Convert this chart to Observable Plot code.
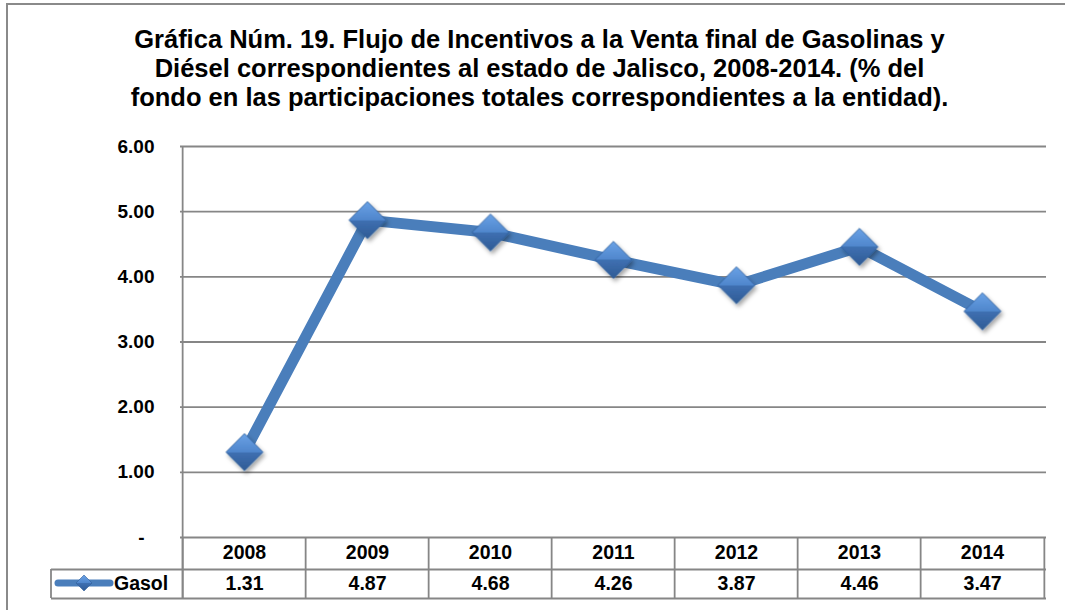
<!DOCTYPE html>
<html>
<head>
<meta charset="utf-8">
<script src="https://cdn.jsdelivr.net/npm/d3@7"></script>
<script src="https://cdn.jsdelivr.net/npm/@observablehq/plot@0.6"></script>
<style>
  html, body { margin: 0; padding: 0; background: #fff; }
  #wrap { position: relative; width: 1065px; height: 610px; overflow: hidden; font-family: "Liberation Sans", Arial, sans-serif; }
  #border { position: absolute; left: 6px; top: 3px; width: 1200px; height: 800px; border-left: 2px solid #8a8a8a; border-top: 2px solid #8a8a8a; }
  #title { position: absolute; left: 7px; top: 25px; width: 1065px; text-align: center; font-weight: bold; font-size: 25.5px; line-height: 29px; color: #000; white-space: nowrap; }
  #chart { position: absolute; left: 0; top: 0; }
</style>
</head>
<body>
<div id="wrap">
  <div id="border"></div>
  <div id="chart"></div>
  <div id="title">Gráfica Núm. 19. Flujo de Incentivos a la Venta final de Gasolinas y<br>Diésel correspondientes al estado de Jalisco, 2008-2014. (% del<br>fondo en las participaciones totales correspondientes a la entidad).</div>
</div>
<script>
const years = ["2008", "2009", "2010", "2011", "2012", "2013", "2014"];
const values = [1.31, 4.87, 4.68, 4.26, 3.87, 4.46, 3.47];
const yTicks = [1, 2, 3, 4, 5, 6];
const seriesName = "Gasol";

const data = years.map((year, i) => ({year, value: values[i]}));

const W = 1065, H = 610, mL = 180, mR = 19, mT = 146, mB = 73;
const step = (W - mL - mR) / years.length;
const frameH = H - mT - mB;
const gray = "#868686";
const lw = 1.8;
const lineColor = "#4a7ebb";
const font = "'Liberation Sans', Arial, sans-serif";

const chart = Plot.plot({
  width: W, height: H,
  marginLeft: mL, marginRight: mR, marginTop: mT, marginBottom: mB,
  x: {type: "point", domain: years, padding: 0.5},
  y: {domain: [0, 6]},
  style: {fontFamily: font, background: "transparent", color: "#000", overflow: "visible"},
  marks: [
    Plot.gridY([0, ...yTicks], {stroke: gray, strokeOpacity: 1, strokeWidth: lw}),
    // table vertical separators
    Plot.ruleX(years, {x: d => d, dx: -step / 2, insetTop: frameH, insetBottom: -61, stroke: gray, strokeWidth: lw}),
    Plot.ruleX([years[0]], {x: d => d, dx: -step / 2, insetBottom: -61, stroke: gray, strokeWidth: lw}),
    Plot.ruleX([years[years.length - 1]], {x: d => d, dx: step / 2, insetTop: frameH, insetBottom: -61, stroke: gray, strokeWidth: lw}),
    // table horizontal lines
    Plot.ruleY([0], {dy: 32, insetLeft: -129, stroke: gray, strokeWidth: lw}),
    Plot.ruleY([0], {dy: 61, insetLeft: -129, stroke: gray, strokeWidth: lw}),
    Plot.axisY(yTicks, {tickSize: 0, tickPadding: 26, tickFormat: d => d.toFixed(2), fontSize: 19, fontWeight: "bold", label: null}),
    Plot.text([0], {frameAnchor: "left", y: d => d, text: () => "-", dx: -36, textAnchor: "end", fontSize: 19, fontWeight: "bold"}),
    Plot.axisX({tickSize: 0, tickPadding: 8, fontSize: 19.5, fontWeight: "bold", label: null}),
    Plot.text(data, {x: "year", text: d => d.value.toFixed(2), frameAnchor: "bottom", lineAnchor: "middle", dy: 46, fontSize: 19.5, fontWeight: "bold"}),
    Plot.line(data, {x: "year", y: "value", stroke: lineColor, strokeWidth: 11, strokeLinejoin: "round"}),
    Plot.dot(data, {x: "year", y: "value", symbol: "diamond2", r: 16.7, fill: "url(#dg)", stroke: "#2f5e99", strokeWidth: 0.8})
  ]
});

const svg = d3.select(chart);
const defs = svg.insert("defs", ":first-child");
const grad = defs.append("linearGradient").attr("id", "dg").attr("x1", 0).attr("y1", 0).attr("x2", 0).attr("y2", 1);
grad.append("stop").attr("offset", "0%").attr("stop-color", "#6aa2e6");
grad.append("stop").attr("offset", "50%").attr("stop-color", "#4f86cc");
grad.append("stop").attr("offset", "50%").attr("stop-color", "#3f70b2");
grad.append("stop").attr("offset", "100%").attr("stop-color", "#2f5b95");
const filt = defs.append("filter").attr("id", "sh").attr("x", "-50%").attr("y", "-50%").attr("width", "200%").attr("height", "200%");
filt.append("feDropShadow").attr("dx", 2).attr("dy", 3).attr("stdDeviation", 2).attr("flood-color", "#000").attr("flood-opacity", 0.35);
svg.selectAll('g[aria-label="dot"]').attr("filter", "url(#sh)");

// legend key inside the data table's first cell
const lg = svg.append("g");
lg.append("line").attr("x1", 51).attr("x2", 51).attr("y1", 569).attr("y2", 598).attr("stroke", gray).attr("stroke-width", lw);
lg.append("line").attr("x1", 58).attr("x2", 110).attr("y1", 583).attr("y2", 583)
  .attr("stroke", lineColor).attr("stroke-width", 7).attr("stroke-linecap", "round");
lg.append("path").attr("d", "M84,575L92,583L84,591L76,583Z").attr("fill", "url(#dg)").attr("stroke", "#2f5e99").attr("stroke-width", 0.6);
lg.append("text").attr("x", 114).attr("y", 583).attr("dy", "0.36em").attr("text-anchor", "start")
  .attr("font-size", 19.5).attr("font-weight", "bold").attr("font-family", font).text(seriesName);

document.getElementById("chart").appendChild(chart);
</script>
</body>
</html>
